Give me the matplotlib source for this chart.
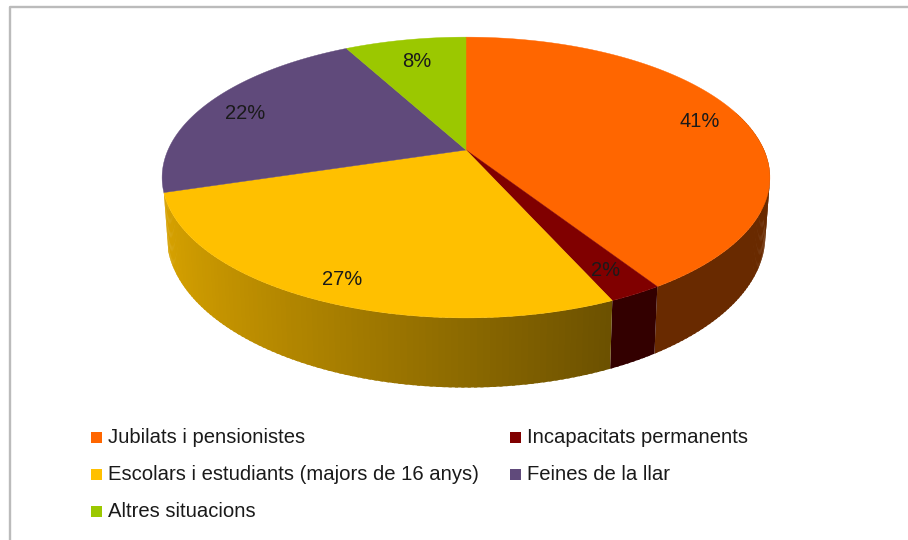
import numpy as np
import matplotlib
matplotlib.use("Agg")
import matplotlib.pyplot as plt
from matplotlib.patches import Rectangle

plt.rcParams['font.family'] = ['Liberation Sans', 'DejaVu Sans']

# dades del gràfic
categories = ["Jubilats i pensionistes", "Incapacitats permanents",
              "Escolars i estudiants (majors de 16 anys)", "Feines de la llar",
              "Altres situacions"]
shares = [41.0, 2.4, 26.8, 22.0, 7.8]
colors = ["#FF6600", "#800000", "#FFC000", "#604A7B", "#9BC800"]

# projecció del disc (perspectiva), en píxels
cx, cy = 466, 150
rx, ry = 298, 135
k = 0.196
depth = 56
bottom_scale = 0.985


def project(theta, r=1.0):
    # theta en graus, sentit horari des de dalt
    t = np.radians(theta)
    u = r * np.sin(t)
    v = r * np.cos(t)
    d = 1 + k * v
    return cx + rx * u / d, cy - ry * v / d


def project_bottom(theta):
    t = np.radians(theta)
    u = np.sin(t)
    v = np.cos(t)
    d = 1 + k * v
    return cx + bottom_scale * rx * u / d, cy - ry * v / d + depth / d


def side_shade(theta):
    return max(0.41, 0.545 - 0.31 * np.sin(np.radians(theta)))


fig = plt.figure(figsize=(9.08, 5.4), dpi=100)
ax = fig.add_axes([0, 0, 1, 1])
ax.set_xlim(0, 908)
ax.set_ylim(540, 0)
ax.axis('off')

# marc gris
ax.plot([10, 10, 908], [540, 6.5, 6.5], color="#BBBBBB", lw=1.7)

edges = np.concatenate([[0], np.cumsum(shares)]) / sum(shares) * 360

# paret lateral (només els tres primers sectors es veuen)
for i, c in enumerate(colors[:3]):
    base = np.array(matplotlib.colors.to_rgb(c))
    for a in np.arange(edges[i], edges[i + 1], 1.0):
        if np.cos(np.radians(a)) > 0.3:
            continue
        b = min(a + 1.5, edges[i + 1])
        x1, y1 = project(a)
        x2, y2 = project(b)
        x3, y3 = project_bottom(b)
        x4, y4 = project_bottom(a)
        shade = side_shade((a + b) / 2)
        if c == "#800000":
            shade = 0.4
        ax.fill([x1, x2, x3, x4], [y1, y2, y3, y4], color=base * shade, lw=0)

# cara superior
for i, c in enumerate(colors):
    th = np.linspace(edges[i], edges[i + 1], 120)
    x, y = project(th)
    ax.fill(np.r_[cx, x], np.r_[cy, y], color=c, lw=0.3)

# etiquetes de percentatge
label_dx = [1, 0, 0, 0, 4]
label_dy = [2, 2, 6, 4, 7]
for i in range(len(shares)):
    mid = (edges[i] + edges[i + 1]) / 2
    x, y = project(mid, 0.85)
    ax.text(x + label_dx[i], y + label_dy[i], f"{shares[i]:.0f}%", ha='center',
            va='center', fontsize=14.5, color="#1A1A1A")

# llegenda
legend_x = [91, 510]
legend_y = [437, 474, 511]
for i, name in enumerate(categories):
    col = i % 2
    row = i // 2
    ax.add_patch(Rectangle((legend_x[col], legend_y[row] - 5.5), 11, 11,
                           color=colors[i], lw=0))
    ax.text(legend_x[col] + 17, legend_y[row] + 6, name, ha='left',
            va='baseline', fontsize=14.6, color="#1A1A1A")

fig.savefig("out.png", dpi=100)
